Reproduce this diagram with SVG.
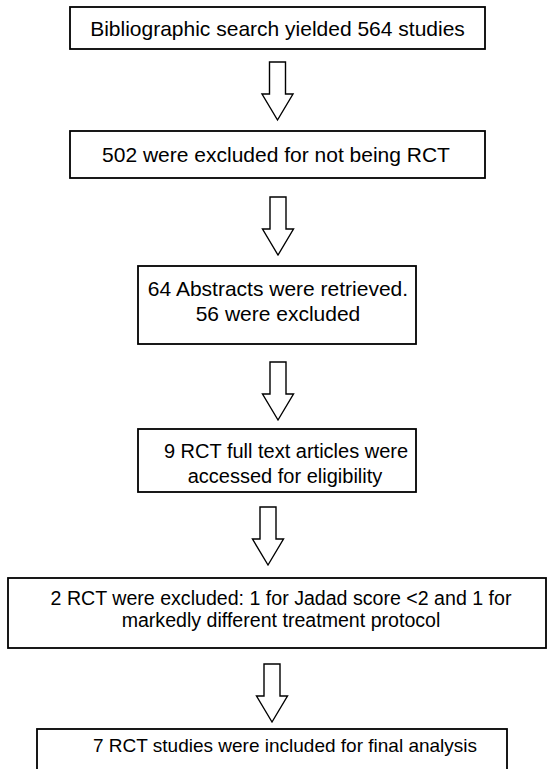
<svg xmlns="http://www.w3.org/2000/svg" width="548" height="769" viewBox="0 0 548 769">
  <defs>
    <style>
      .box { fill: #ffffff; stroke: #000000; stroke-width: 1.8; }
      .arrow { fill: #ffffff; stroke: #000000; stroke-width: 1.4; stroke-linejoin: miter; }
      .label { font-family: "Liberation Sans", Arial, sans-serif; font-size: 21px; fill: #000000; text-anchor: middle; }
      .small { font-size: 20px; }
      .smaller { font-size: 19.6px; }
      .smallest { font-size: 19px; }
    </style>
    <!-- hollow block arrow pointing down, origin at top-centre of the shaft -->
    <path id="blockArrow" d="M -8 0 L 8 0 L 8 32 L 15.5 32 L 0 58 L -15.5 32 L -8 32 Z"/>
  </defs>
  <rect width="548" height="769" fill="#ffffff"/>

  <g id="connectors">
    <use href="#blockArrow" class="arrow" x="277.5" y="62"/>
    <use href="#blockArrow" class="arrow" x="278" y="197"/>
    <use href="#blockArrow" class="arrow" x="278" y="362"/>
    <use href="#blockArrow" class="arrow" x="268" y="507"/>
    <use href="#blockArrow" class="arrow" x="272" y="664"/>
  </g>

  <g id="search">
    <rect class="box" x="70" y="7" width="415" height="42"/>
    <text class="label" x="277.5" y="36">Bibliographic search yielded 564 studies</text>
  </g>

  <g id="not-rct">
    <rect class="box" x="70" y="131" width="415" height="47"/>
    <text class="label" x="276" y="162">502 were excluded for not being RCT</text>
  </g>

  <g id="abstracts">
    <rect class="box" x="138" y="266" width="278" height="78"/>
    <text class="label" x="278" y="296">64 Abstracts were retrieved.</text>
    <text class="label" x="278" y="321">56 were excluded</text>
  </g>

  <g id="full-text">
    <rect class="box" x="138" y="429" width="278" height="63"/>
    <text class="label small" x="286" y="458">9 RCT full text articles were</text>
    <text class="label small" x="285" y="483">accessed for eligibility</text>
  </g>

  <g id="excluded-rct">
    <rect class="box" x="8" y="578" width="538" height="70"/>
    <text class="label smaller" x="281" y="605">2 RCT were excluded: 1 for Jadad score &lt;2 and 1 for</text>
    <text class="label smaller" x="281" y="627">markedly different treatment protocol</text>
  </g>

  <g id="included">
    <rect class="box" x="37" y="729" width="470" height="60"/>
    <text class="label smallest" x="285" y="752">7 RCT studies were included for final analysis</text>
  </g>
</svg>
